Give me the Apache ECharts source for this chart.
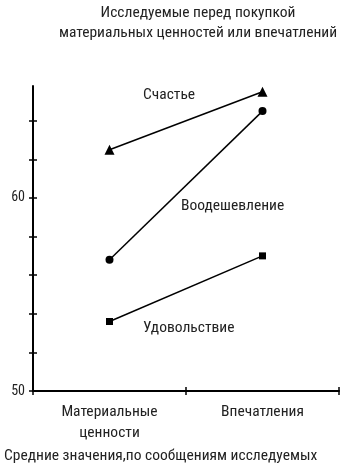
<!DOCTYPE html>
<html>
<head>
<meta charset="utf-8">
<script src="https://cdn.jsdelivr.net/npm/echarts@6/dist/echarts.min.js"></script>
<style>
  html, body { margin: 0; padding: 0; background: #fff; }
  #chart { width: 342px; height: 467px; }
</style>
</head>
<body>
<div id="chart"></div>
<script>
// Categories on the horizontal axis
const categories = ['Материальные\nценности', 'Впечатления'];

// Mean ratings per emotion
const happiness = [62.5, 65.5];      // Счастье
const enthusiasm = [56.8, 64.5];     // Воодешевление
const pleasure = [53.6, 57.0];       // Удовольствие

// Vertical axis ticks and labelled values
const yTicks = [50, 52, 54, 56, 58, 60, 62, 64];
const yLabels = [50, 60];

const FONT = '"Roboto Condensed", "DejaVu Sans Condensed", sans-serif';
const FS = 15.5;

const chart = echarts.init(document.getElementById('chart'), null, { renderer: 'canvas' });

const lineSeries = (name, data, symbol, size) => ({
  name, type: 'line', data, xAxisIndex: 0, yAxisIndex: 0,
  symbol, symbolSize: size,
  lineStyle: { color: '#000', width: 1.5 },
  itemStyle: { color: '#000' },
  silent: true, animation: false
});

const yBase = { type: 'value', min: 50, max: 65.8, position: 'left' };
const xBase = { type: 'category', data: categories, boundaryGap: true, position: 'bottom' };

chart.setOption({
  animation: false,
  textStyle: { fontFamily: FONT },
  grid: { left: 33, right: 3, top: 86, bottom: 76 },
  xAxis: [
    Object.assign({}, xBase, {
      axisLine: { lineStyle: { color: '#000', width: 2 } },
      axisTick: { show: true, length: 4, lineStyle: { color: '#000', width: 1.5 } },
      axisLabel: { color: '#222', fontSize: FS, fontFamily: FONT, margin: 11, lineHeight: 21 },
      splitLine: { show: false }
    }),
    Object.assign({}, xBase, {
      axisLine: { show: false },
      axisTick: { show: true, inside: true, length: 4, lineStyle: { color: '#000', width: 1.5 } },
      axisLabel: { show: false },
      splitLine: { show: false }
    })
  ],
  yAxis: [
    Object.assign({}, yBase, {
      axisLine: { show: true, lineStyle: { color: '#000', width: 2 } },
      axisTick: { show: true, length: 4, customValues: yTicks, lineStyle: { color: '#000', width: 1.5 } },
      axisLabel: { color: '#222', fontSize: 14, fontFamily: FONT, margin: 8, customValues: yLabels },
      splitLine: { show: false }
    }),
    Object.assign({}, yBase, {
      axisLine: { show: false },
      axisTick: { show: true, inside: true, length: 4, customValues: yTicks, lineStyle: { color: '#000', width: 1.5 } },
      axisLabel: { show: false },
      splitLine: { show: false }
    })
  ],
  series: [
    lineSeries('Счастье', happiness, 'triangle', 10),
    lineSeries('Воодешевление', enthusiasm, 'circle', 8),
    lineSeries('Удовольствие', pleasure, 'rect', 7)
  ],
  graphic: [
    { type: 'text', x: 198, y: 3,
      style: { text: 'Исследуемые перед покупкой\nматериальных ценностей или впечатлений',
               font: FS + 'px ' + FONT, fill: '#222', textAlign: 'center', lineHeight: 20 } },
    { type: 'text', x: 143, y: 87, style: { text: 'Счастье', font: FS + 'px ' + FONT, fill: '#222' } },
    { type: 'text', x: 181, y: 198, style: { text: 'Воодешевление', font: FS + 'px ' + FONT, fill: '#222' } },
    { type: 'text', x: 143, y: 320, style: { text: 'Удовольствие', font: FS + 'px ' + FONT, fill: '#222' } },
    { type: 'text', x: 4, y: 448, style: { text: 'Средние значения,по сообщениям исследуемых', font: FS + 'px ' + FONT, fill: '#222' } }
  ]
});
</script>
</body>
</html>
